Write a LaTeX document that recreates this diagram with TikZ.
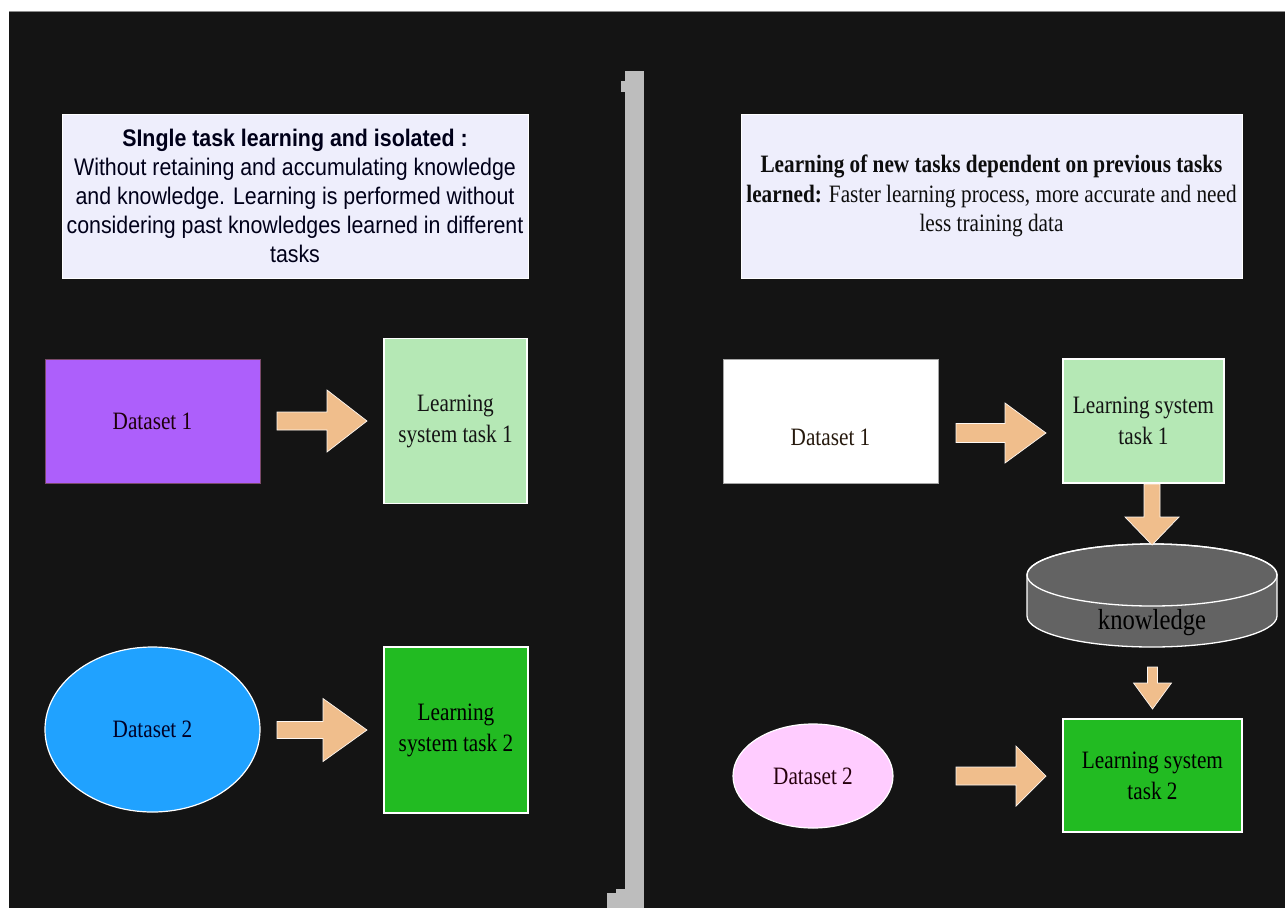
\documentclass[tikz,border=0pt]{standalone}
\usepackage{fontspec}
\setmainfont{Liberation Serif}[FakeStretch=0.85]
\newfontfamily\titlesans{Liberation Sans}[FakeStretch=0.89]
\usetikzlibrary{shapes.geometric}

\definecolor{bgdark}{HTML}{141414}
\definecolor{divider}{HTML}{BDBDBD}
\definecolor{notefill}{HTML}{EEEEFC}
\definecolor{purplebox}{HTML}{AD5FFB}
\definecolor{purpleedge}{HTML}{7A4A6A}
\definecolor{lightgreen}{HTML}{B5E8B5}
\definecolor{darkgreen}{HTML}{22BB22}
\definecolor{skyblue}{HTML}{20A2FF}
\definecolor{pinkfill}{HTML}{FFCCFF}
\definecolor{peach}{HTML}{F0BE8C}
\definecolor{drum}{HTML}{636363}

% horizontal block arrow: tail x, head base x, tip x, centre y, half shaft, half head
\newcommand\blockarrowh[6]{%
  \filldraw[blockarrow] (#1,#4-#5) -- (#2,#4-#5) -- (#2,#4-#6) -- (#3,#4)
    -- (#2,#4+#6) -- (#2,#4+#5) -- (#1,#4+#5) -- cycle;}
% vertical block arrow: tail y, head base y, tip y, centre x, half shaft, half head
\newcommand\blockarrowv[6]{%
  \filldraw[blockarrow] (#4-#5,#1) -- (#4-#5,#2) -- (#4-#6,#2) -- (#4,#3)
    -- (#4+#6,#2) -- (#4+#5,#2) -- (#4+#5,#1) -- cycle;}

\begin{document}
\begin{tikzpicture}[x=1pt,y=-1pt,
  note/.style={rectangle, draw=white, line width=0.8, fill=notefill,
    align=center, inner sep=0},
  box/.style={rectangle, draw=white, line width=1.2, align=center, inner sep=0,
    font=\fontsize{25}{31}\selectfont, text=black!92},
  oval/.style={ellipse, draw=white, line width=1.2, align=center, inner sep=0,
    font=\fontsize{25}{31}\selectfont},
  blockarrow/.style={fill=peach, draw=white!90!peach, line width=0.7},
  label/.style={align=center, inner sep=0, font=\fontsize{25}{31}\selectfont}]

\useasboundingbox (0,0) rectangle (1285,908);
\fill[white] (0,0) rectangle (1285,908);
\fill[bgdark] (9,11) rectangle (1285,908);
\draw[black!45, line width=0.8] (9,11.4) -- (1285,11.4);

% dividing bar
\fill[divider] (625,71) rectangle (644,908);
\fill[divider] (621,81) rectangle (626,92);
\fill[divider] (616,889) rectangle (626,908);
\fill[divider] (607,893) rectangle (626,908);

% ---- left half: isolated learning ----
\node[note, minimum width=466, minimum height=164, text=black!90!blue,
      font=\titlesans\fontsize{24}{29.2}\selectfont] (ltitle) at (295,196)
  {\textbf{SIngle task learning and isolated :}\\
   Without retaining and accumulating knowledge\\
   and knowledge. Learning is performed without\\
   considering past knowledges learned in different\\
   tasks};

\node[box, fill=purplebox, draw=purpleedge, line width=0.9,
      minimum width=215, minimum height=124, text=black!85!purple] (ld1) at (152.5,421) {Dataset 1};
\node[box, fill=lightgreen, minimum width=143, minimum height=165] (lls1) at (455.5,421)
  {Learning\\system task 1};
\node[oval, fill=skyblue, minimum width=215, minimum height=165, text=black!85!blue] (ld2) at (152.5,729.5) {Dataset 2};
\node[box, fill=darkgreen, minimum width=144, minimum height=166, text=black] (lls2) at (456,730)
  {Learning\\system task 2};

\blockarrowh{277}{327}{367}{421}{9}{31}
\blockarrowh{277}{323}{367}{730}{8.5}{31.5}

% ---- right half: learning with accumulated knowledge ----
\node[note, minimum width=501, minimum height=164, text=black!95,
      font=\fontsize{25}{29.5}\selectfont] (rtitle) at (991.5,196)
  {\textbf{Learning of new tasks dependent on previous tasks}\\
   \textbf{learned:} Faster learning process, more accurate and need\\
   less training data};

\node[box, fill=white, draw=black!35, line width=0.9,
      minimum width=215, minimum height=124] (rd1) at (830.5,421) {};
\node[label, text=black!80!brown] (rd1text) at (830.5,437) {Dataset 1};
\node[box, fill=lightgreen, minimum width=161, minimum height=124] (rls1) at (1143.5,421)
  {Learning system\\task 1};

% knowledge store
\filldraw[fill=drum, draw=white, line width=1.3]
  (1027,575) -- (1027,616) arc[start angle=180, end angle=0, x radius=125, y radius=31]
  -- (1277,575) arc[start angle=0, end angle=-180, x radius=125, y radius=31] -- cycle;
\draw[white, line width=1.3] (1152,575) ellipse[x radius=125, y radius=31];
\node[label, text=black, font=\fontsize{29}{33}\selectfont] (know) at (1152,623) {knowledge};

\node[oval, fill=pinkfill, minimum width=160, minimum height=104, text=black!80!purple] (rd2) at (813,776) {Dataset 2};
\node[box, fill=darkgreen, minimum width=179, minimum height=113, text=black] (rls2) at (1152.5,775.5)
  {Learning system\\task 2};

\blockarrowh{956}{1005}{1046}{433}{9.5}{30}
\blockarrowh{956}{1016}{1046}{776}{9}{30}
\blockarrowv{484}{517}{545}{1152}{8}{27}
\blockarrowv{667}{683}{709}{1152.5}{5}{19}

\end{tikzpicture}
\end{document}
